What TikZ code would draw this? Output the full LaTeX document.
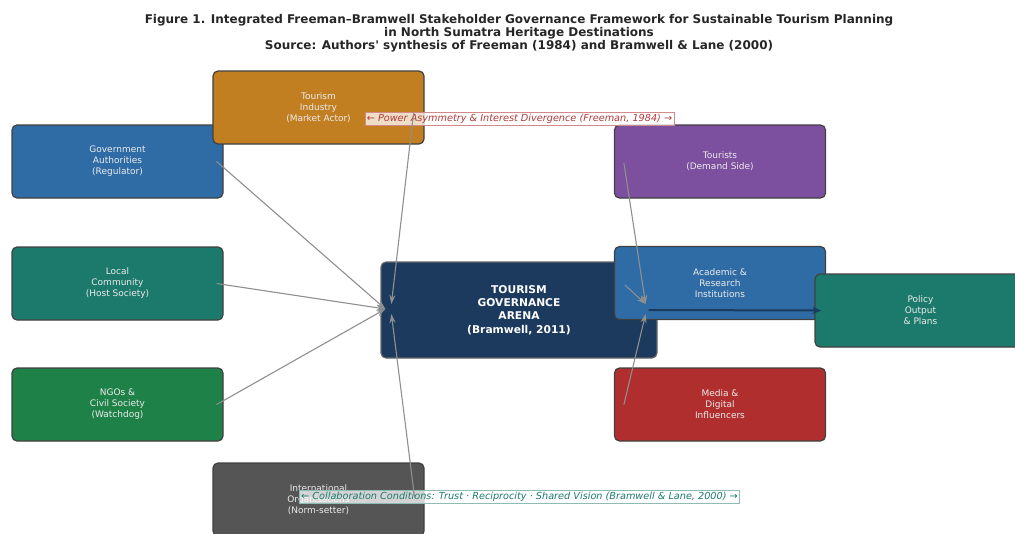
\documentclass[tikz,border=0pt]{standalone}
\usepackage{fontspec}
\setmainfont{DejaVu Sans}
\usetikzlibrary{arrows.meta}

\definecolor{govblue}{HTML}{2F6CA5}
\definecolor{indorange}{HTML}{C27F22}
\definecolor{comteal}{HTML}{1C7A6C}
\definecolor{ngogreen}{HTML}{1E8147}
\definecolor{intgray}{HTML}{555555}
\definecolor{arenanavy}{HTML}{1C3A5E}
\definecolor{tourpurple}{HTML}{7D4F9F}
\definecolor{mediared}{HTML}{B02E2E}
\definecolor{linkgray}{HTML}{8F8F8F}
\definecolor{powred}{HTML}{B23A3A}
\definecolor{collteal}{HTML}{1C7A6C}

\begin{document}
\begin{tikzpicture}[x=1pt,y=-1pt,
  actor/.style={draw=black!75,line width=1.2pt,rounded corners=5pt,
    minimum width=211pt,minimum height=73pt,text=white!92!black,align=center,
    font=\fontsize{9}{11}\selectfont},
  link/.style={linkgray,line width=1.1pt,-{Stealth[length=9pt,width=6pt]}},
  tag/.style={draw,line width=0.6pt,fill=white,fill opacity=0.75,text opacity=1,
    inner sep=1.8pt,font=\fontsize{9.7}{11}\selectfont\itshape}]
\useasboundingbox (0,0) rectangle (1015,533);

% title
\node[align=center,font=\fontsize{12}{12.8}\selectfont\bfseries,text=black!85] (title) at (519,33.5)
  {Figure 1. Integrated Freeman--Bramwell Stakeholder Governance Framework for Sustainable Tourism Planning\\
   in North Sumatra Heritage Destinations\\
   Source: Authors\textquotesingle\ synthesis of Freeman (1984) and Bramwell \& Lane (2000)};

% stakeholders, left side
\node[actor,fill=govblue] (gov) at (117.5,161.5) {Government\\Authorities\\(Regulator)};
\node[actor,fill=comteal] (com) at (117.5,283.5) {Local\\Community\\(Host Society)};
\node[actor,fill=ngogreen] (ngo) at (117.5,404.5) {NGOs \&\\Civil Society\\(Watchdog)};
\node[actor,fill=indorange] (ind) at (318.5,107.5) {Tourism\\Industry\\(Market Actor)};
\node[actor,fill=intgray] (int) at (318.5,499.5) {International\\Organisations\\(Norm-setter)};

% arena
\node[draw=black!60,line width=1.2pt,rounded corners=5pt,fill=arenanavy,minimum width=276pt,
  minimum height=96pt,text=white,align=center,font=\fontsize{10.7}{13.4}\selectfont\bfseries]
  (arena) at (519,310) {TOURISM\\GOVERNANCE\\ARENA\\(Bramwell, 2011)};

% stakeholders, right side
\node[actor,fill=tourpurple] (tour) at (720,161.5) {Tourists\\(Demand Side)};
\node[actor,fill=govblue] (acad) at (720,283) {Academic \&\\Research\\Institutions};
\node[actor,fill=mediared] (media) at (720,404.5) {Media \&\\Digital\\Influencers};
\node[actor,fill=comteal] (policy) at (920.5,310.5) {Policy\\Output\\\& Plans};

% labels
\node[tag,draw=powred!60,text=powred] (power) at (519.5,118.5)
  {← Power Asymmetry \& Interest Divergence (Freeman, 1984) →};
\node[tag,draw=collteal!50,text=collteal] (coll) at (519.5,496.5)
  {← Collaboration Conditions: Trust · Reciprocity · Shared Vision (Bramwell \& Lane, 2000) →};

% links into the arena
\coordinate (inL) at ([xshift=5pt,yshift=1pt]arena.west);
\coordinate (inLt) at ([xshift=11pt,yshift=6pt]arena.west);
\coordinate (inLb) at ([xshift=11pt,yshift=-4pt]arena.west);
\coordinate (inR) at ([xshift=-12pt,yshift=6pt]arena.east);
\coordinate (inRb) at ([xshift=-12pt,yshift=-4pt]arena.east);

\foreach \s in {gov,com,ngo}{
  \draw[link] ([xshift=-7pt]\s.east) -- (inL);
}
\draw[link] ([xshift=-11pt,yshift=-5pt]ind.east) -- (inLt);
\draw[link] ([xshift=-10pt,yshift=2pt]int.east) -- (inLb);
\draw[link] ([xshift=10pt,yshift=-1.5pt]tour.west) -- (inR);
\draw[link] ([xshift=11pt,yshift=-2pt]acad.west) -- (inR);
\draw[link] ([xshift=10pt]media.west) -- (inRb);

% arena to policy
\draw[arenanavy,line width=2pt,-{Stealth[length=9pt,width=7pt]}]
  ([xshift=-9pt]arena.east) -- ([xshift=7pt]policy.west);
\end{tikzpicture}
\end{document}
